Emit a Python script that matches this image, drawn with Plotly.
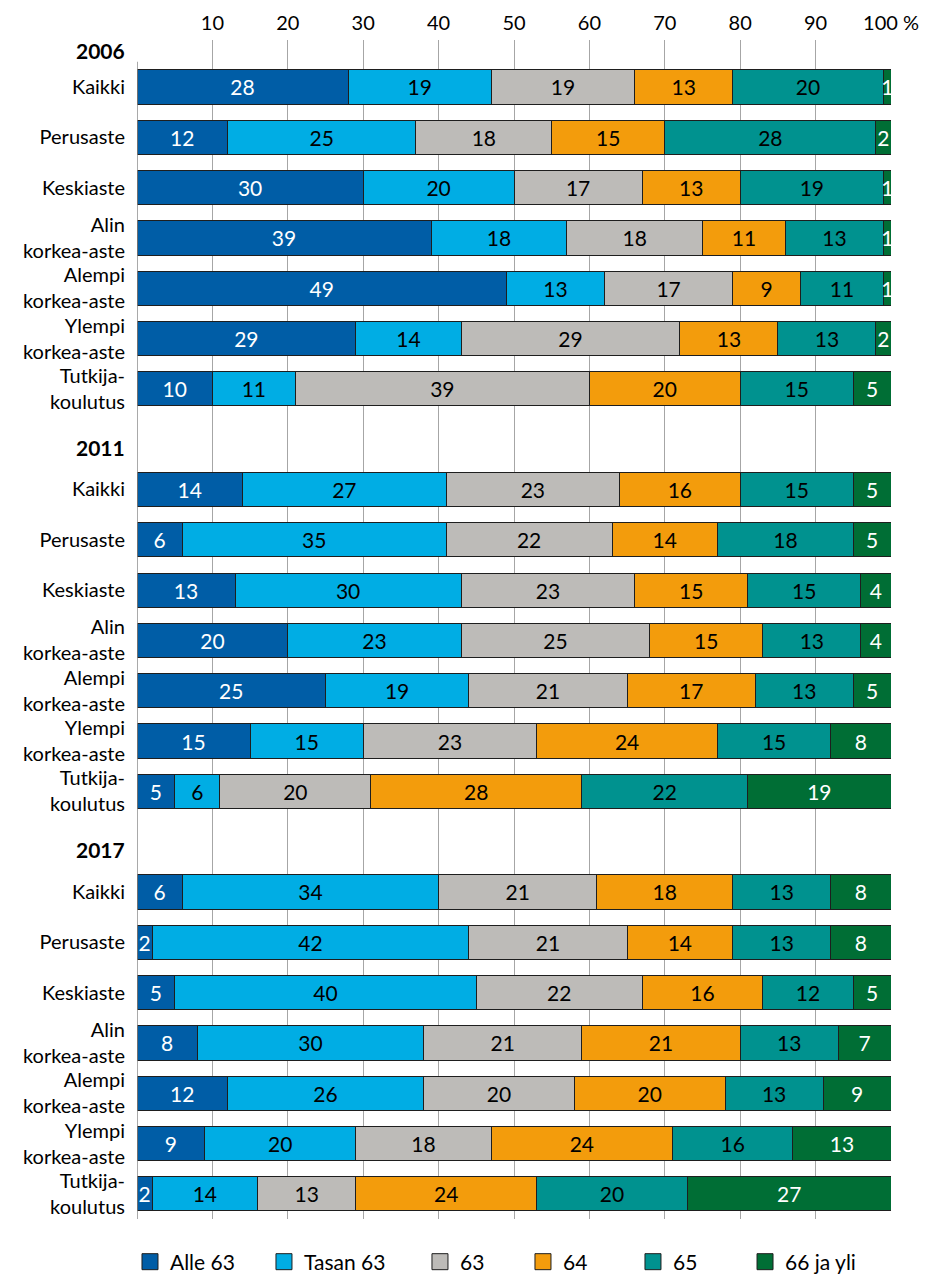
import plotly.graph_objects as go

years = ["2006", "2011", "2017"]
levels = [
    "Kaikki",
    "Perusaste",
    "Keskiaste",
    "Alin<br>korkea-aste",
    "Alempi<br>korkea-aste",
    "Ylempi<br>korkea-aste",
    "Tutkija-<br>koulutus",
]

# shares (%) in order: 2006 levels, 2011 levels, 2017 levels
alle_63 = [28, 12, 30, 39, 49, 29, 10,
           14, 6, 13, 20, 25, 15, 5,
           6, 2, 5, 8, 12, 9, 2]
tasan_63 = [19, 25, 20, 18, 13, 14, 11,
            27, 35, 30, 23, 19, 15, 6,
            34, 42, 40, 30, 26, 20, 14]
ika_63 = [19, 18, 17, 18, 17, 29, 39,
          23, 22, 23, 25, 21, 23, 20,
          21, 21, 22, 21, 20, 18, 13]
ika_64 = [13, 15, 13, 11, 9, 13, 20,
          16, 14, 15, 15, 17, 24, 28,
          18, 14, 16, 21, 20, 24, 24]
ika_65 = [20, 28, 19, 13, 11, 13, 15,
          15, 18, 15, 13, 13, 15, 22,
          13, 13, 12, 13, 13, 16, 20]
yli_66 = [1, 2, 1, 1, 1, 2, 5,
          5, 5, 4, 4, 5, 8, 19,
          8, 8, 5, 7, 9, 13, 27]

series = [
    ("Alle 63", alle_63, "#005DA6", "white"),
    ("Tasan 63", tasan_63, "#00ADE4", "black"),
    ("63", ika_63, "#BDBBB8", "black"),
    ("64", ika_64, "#F39C0C", "black"),
    ("65", ika_65, "#00928F", "black"),
    ("66 ja yli", yli_66, "#006E35", "white"),
]

x_ticks = [10, 20, 30, 40, 50, 60, 70, 80, 90, 100]
x_ticktext = ["10", "20", "30", "40", "50", "60", "70", "80", "90", "100 %"]

FONT = "Lato"
FSIZE = 21
OUTLINE = "#1e1e1e"
block = len(levels) + 1

# one header row per year followed by the education levels
y_pos = []
y_text = []
for g, year in enumerate(years):
    for i, lev in enumerate(levels):
        y_pos.append(g * block + 1 + i)
        y_text.append(lev)

fig = go.Figure()
for name, vals, color, tcolor in series:
    fig.add_trace(
        go.Bar(
            x=vals,
            y=y_pos,
            orientation="h",
            name=name,
            showlegend=False,
            marker=dict(color=color, line=dict(color=OUTLINE, width=1)),
            text=[str(v) for v in vals],
            textposition="inside",
            insidetextanchor="middle",
            constraintext="none",
            textfont=dict(family=FONT, size=FSIZE, color=tcolor),
            hoverinfo="skip",
        )
    )

# legend entries, one small legend each so they can be spaced like the original
legend_x = [-0.0093, 0.1684, 0.3753, 0.5119, 0.6578, 0.8064]
legend_layout = {}
for k, (name, vals, color, tcolor) in enumerate(series):
    key = "legend" if k == 0 else f"legend{k + 1}"
    fig.add_trace(
        go.Scatter(
            x=[None],
            y=[None],
            mode="markers",
            name=name,
            legend=key,
            marker=dict(symbol="square", size=20, color=color,
                        line=dict(color=OUTLINE, width=1)),
            hoverinfo="skip",
        )
    )
    legend_layout[key] = dict(
        orientation="h",
        x=legend_x[k],
        xanchor="left",
        y=-0.0365,
        yanchor="middle",
        itemsizing="trace",
        font=dict(family=FONT, size=FSIZE),
        bgcolor="rgba(0,0,0,0)",
    )

header_offsets = [0.27, 0.16, 0.16]
for g, year in enumerate(years):
    fig.add_annotation(
        text="<b>" + year + "</b>",
        x=0,
        xref="paper",
        y=g * block + header_offsets[g],
        yref="y",
        xanchor="right",
        xshift=-10,
        showarrow=False,
        font=dict(family=FONT, size=FSIZE, color="black"),
    )

# left axis line (starts at the first bar row)
fig.add_shape(
    type="line",
    x0=0, x1=0, xref="x",
    y0=0.5, y1=len(years) * block - 0.5, yref="y",
    line=dict(color="#8c8c8c", width=1.5),
)

fig.update_layout(
    width=930,
    height=1281,
    barmode="stack",
    bargap=0.32,
    plot_bgcolor="white",
    paper_bgcolor="white",
    margin=dict(l=129, r=47, t=32, b=70, autoexpand=False),
    font=dict(family=FONT, size=FSIZE, color="black"),
    uniformtext=dict(minsize=FSIZE, mode="show"),
    xaxis=dict(
        side="top",
        range=[0, 100],
        tickvals=x_ticks,
        ticktext=x_ticktext,
        showgrid=True,
        gridcolor="#a6a6a6",
        gridwidth=1,
        zeroline=False,
        showline=False,
        ticks="",
        ticklabelstandoff=5,
        automargin=False,
        tickfont=dict(family=FONT, size=20),
    ),
    yaxis=dict(
        range=[len(years) * block - 0.5, 0.066],
        tickvals=y_pos,
        ticktext=y_text,
        showgrid=False,
        zeroline=False,
        showline=False,
        ticks="",
        ticklabelstandoff=11,
        automargin=False,
        tickfont=dict(family=FONT, size=20),
    ),
    **legend_layout,
)

fig.write_html("out.html")
